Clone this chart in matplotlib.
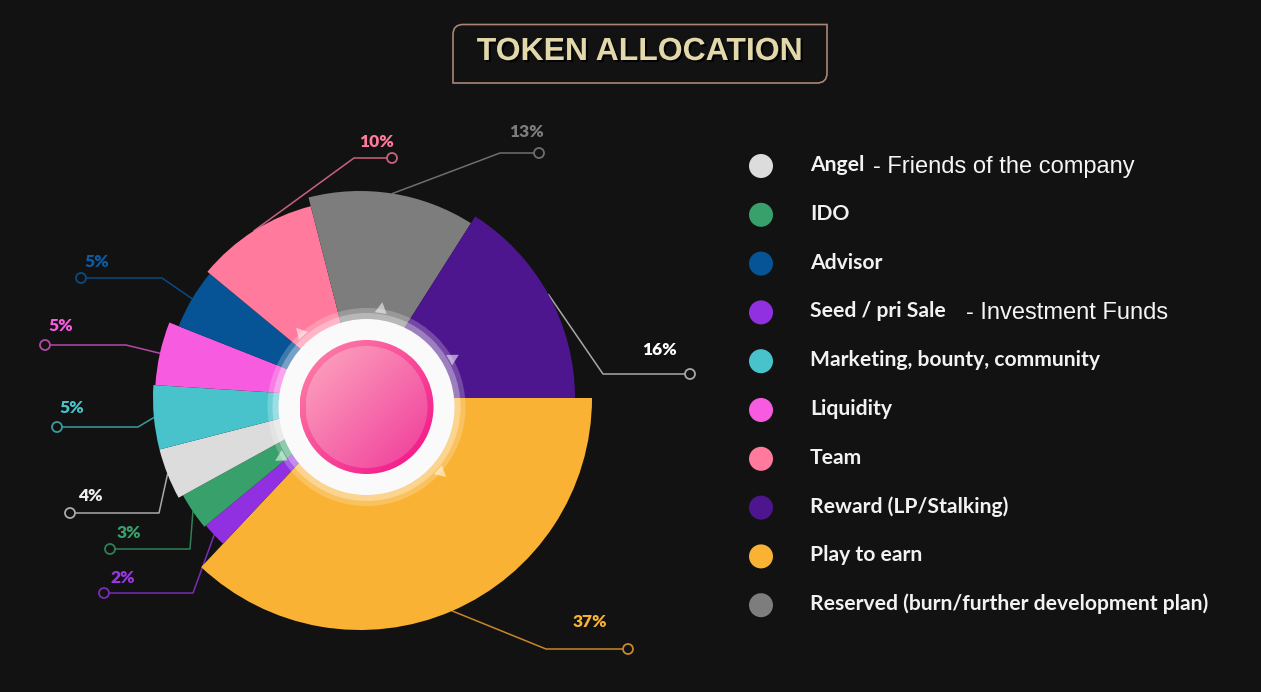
import numpy as np
import matplotlib
matplotlib.use("Agg")
import matplotlib.pyplot as plt
from matplotlib.patches import Wedge, Circle, Polygon, PathPatch
from matplotlib.path import Path
from matplotlib.colors import to_rgb
import matplotlib.patheffects as pe

# ---------------- data ----------------
categories = ["Play to earn", "Seed / pri Sale", "IDO", "Angel",
              "Marketing, bounty, community", "Liquidity", "Advisor", "Team",
              "Reserved (burn/further development plan)", "Reward (LP/Stalking)"]
values = [37, 2, 3, 4, 5, 5, 5, 10, 13, 16]

legend_order = ["Angel", "IDO", "Advisor", "Seed / pri Sale",
                "Marketing, bounty, community", "Liquidity", "Team",
                "Reward (LP/Stalking)", "Play to earn",
                "Reserved (burn/further development plan)"]
legend_suffix = {"Angel": "- Friends of the company",
                 "Seed / pri Sale": "- Investment Funds"}

title = "TOKEN ALLOCATION"

# ---------------- styles ----------------
BG = "#121212"
colors = {
    "Play to earn": "#F9B233",
    "Seed / pri Sale": "#9130E0",
    "IDO": "#38A06A",
    "Angel": "#DCDCDC",
    "Marketing, bounty, community": "#48C3CC",
    "Liquidity": "#F75BE0",
    "Advisor": "#065496",
    "Team": "#FF7A9C",
    "Reserved (burn/further development plan)": "#7C7D7C",
    "Reward (LP/Stalking)": "#4E168E",
}
label_colors = dict(colors)
label_colors["Reward (LP/Stalking)"] = "#FFFFFF"
label_colors["Angel"] = "#EEEEEE"
label_colors["Advisor"] = "#0A5CA6"
label_colors["Seed / pri Sale"] = "#9B35E8"
line_colors = {
    "Play to earn": "#C8862A",
    "Seed / pri Sale": "#7A2CB8",
    "IDO": "#2E7F56",
    "Angel": "#AAAAAA",
    "Marketing, bounty, community": "#3A9AA2",
    "Liquidity": "#B548A6",
    "Advisor": "#0A4A80",
    "Team": "#C9627E",
    "Reserved (burn/further development plan)": "#6E6E6E",
    "Reward (LP/Stalking)": "#A8A8A8",
}
# wedge outer radii (px)
radii = {
    "Play to earn": 232, "Seed / pri Sale": 200, "IDO": 202, "Angel": 207,
    "Marketing, bounty, community": 207, "Liquidity": 205, "Advisor": 195,
    "Team": 198, "Reserved (burn/further development plan)": 207,
    "Reward (LP/Stalking)": 215,
}
# leader layout: elbow, end circle, text position (px)
leader = {
    "Team": ((354, 158), (392, 158), (377, 142)),
    "Reserved (burn/further development plan)": ((500, 153), (539, 153), (527, 132)),
    "Reward (LP/Stalking)": ((603, 374), (690, 374), (660, 350)),
    "Play to earn": ((546, 649), (628, 649), (590, 622)),
    "Advisor": ((162, 278), (81, 278), (97, 262)),
    "Liquidity": ((126, 345), (45, 345), (61, 326)),
    "Marketing, bounty, community": ((138, 427), (57, 427), (72, 408)),
    "Angel": ((159, 513), (70, 513), (90, 496)),
    "IDO": ((190, 549), (110, 549), (129, 533)),
    "Seed / pri Sale": ((193, 593), (104, 593), (123, 578)),
}

W, H = 1261, 692
CX, CY = 360, 398          # pie centre
HX, HY = 366.5, 407        # hub centre

fig = plt.figure(figsize=(W / 100, H / 100), dpi=100, facecolor=BG)
ax = fig.add_axes([0, 0, 1, 1])
ax.set_xlim(0, W)
ax.set_ylim(H, 0)
ax.set_aspect("equal")
ax.axis("off")
ax.set_facecolor(BG)

LABEL_FONT = ["Lato", "DejaVu Sans"]
LEGEND_FONT = ["Lato", "DejaVu Sans"]

# ---------------- wedges ----------------
total = float(sum(values))
theta = 0.0
mids = {}
for cat, v in zip(categories, values):
    span = 360.0 * v / total
    w = Wedge((CX, CY), radii[cat], theta, theta + span,
              facecolor=colors[cat], edgecolor="none", zorder=2)
    ax.add_patch(w)
    mids[cat] = theta + span / 2
    theta += span

# ---------------- leader lines + percentage labels ----------------
for cat, v in zip(categories, values):
    a = np.deg2rad(mids[cat])
    r = radii[cat]
    sx, sy = CX + r * np.cos(a), CY + r * np.sin(a)
    (ex, ey), (tx, ty), (lx, ly) = leader[cat]
    ax.plot([sx, ex, tx], [sy, ey, ey], color=line_colors[cat], lw=1.1,
            zorder=1, solid_capstyle="round")
    ax.add_patch(Circle((tx, ty), 5, facecolor=BG, edgecolor=line_colors[cat],
                        lw=1.3, zorder=3))
    ax.text(lx, ly, f"{v}%", color=label_colors[cat], fontsize=12.5,
            fontweight="heavy", family=LABEL_FONT, ha="center", va="center",
            zorder=4)

# ---------------- hub ----------------
ax.add_patch(Circle((HX, HY), 99, facecolor="white", alpha=0.22, edgecolor="none", zorder=5))
ax.add_patch(Circle((HX, HY), 94, facecolor="white", alpha=0.30, edgecolor="none", zorder=5))
for ang in [278.6, 228.4, 330.5, 149.5, 41.3]:
    a = np.deg2rad(ang)
    ux, uy = np.cos(a), np.sin(a)
    px, py = -uy, ux
    base = 95
    tip = 106
    pts = [(HX + base * ux + 6 * px, HY + base * uy + 6 * py),
           (HX + base * ux - 6 * px, HY + base * uy - 6 * py),
           (HX + tip * ux, HY + tip * uy)]
    ax.add_patch(Polygon(pts, closed=True, facecolor="white", alpha=0.55,
                         edgecolor="none", zorder=5))
ax.add_patch(Circle((HX, HY), 88, facecolor="#FAFAFA", edgecolor="none", zorder=6))


def gradient_disc(r, c1, c2, z):
    n = 256
    yy, xx = np.mgrid[0:n, 0:n]
    t = (xx + yy) / (2.0 * (n - 1))
    c1, c2 = np.array(to_rgb(c1)), np.array(to_rgb(c2))
    img = c1[None, None, :] * (1 - t[..., None]) + c2[None, None, :] * t[..., None]
    im = ax.imshow(img, extent=(HX - r, HX + r, HY + r, HY - r),
                   interpolation="bilinear", zorder=z)
    clip = Circle((HX, HY), r, transform=ax.transData)
    im.set_clip_path(clip)


gradient_disc(67, "#FF86AA", "#F20E88", 7)
gradient_disc(61, "#FDA8BE", "#F03A9B", 8)
ax.set_xlim(0, W)
ax.set_ylim(H, 0)

# ---------------- title box ----------------
x0, x1, y0, y1, rc = 453, 827, 24.5, 83, 10
verts = [(x0, y0 + rc), (x0, y0), (x0 + rc, y0),
         (x1, y0), (x1, y1 - rc), (x1, y1), (x1 - rc, y1),
         (x0, y1), (x0, y0 + rc)]
codes = [Path.MOVETO, Path.CURVE3, Path.CURVE3,
         Path.LINETO, Path.LINETO, Path.CURVE3, Path.CURVE3,
         Path.LINETO, Path.CLOSEPOLY]
ax.add_patch(PathPatch(Path(verts, codes), facecolor="none",
                       edgecolor="#A98576", lw=1.2, zorder=3))
ax.text((x0 + x1) / 2, 52, title, color="#E2D8AA", fontsize=23,
        fontweight="bold", family=["Liberation Sans", "DejaVu Sans"],
        ha="center", va="center", zorder=4,
        path_effects=[pe.withSimplePatchShadow(offset=(1.5, -1.5),
                                               shadow_rgbFace="#000000", alpha=0.8)])

# ---------------- legend ----------------
leg_y0, leg_dy = 166, 48.8
suffix_x = {"Angel": 873, "Seed / pri Sale": 966}
for i, cat in enumerate(legend_order):
    y = leg_y0 + i * leg_dy
    ax.add_patch(Circle((761, y), 12, facecolor=colors[cat], edgecolor="none", zorder=3))
    ax.text(810, y - 1, cat, color="#F2F2F2", fontsize=15.2, fontweight="bold",
            family=LEGEND_FONT, ha="left", va="center", zorder=4)
    if cat in legend_suffix:
        ax.text(suffix_x[cat], y + 1, legend_suffix[cat], color="#F5F5F5",
                fontsize=17, family=["Liberation Sans", "DejaVu Sans"],
                ha="left", va="center", zorder=4)

fig.savefig("out.png", dpi=100, facecolor=BG)
